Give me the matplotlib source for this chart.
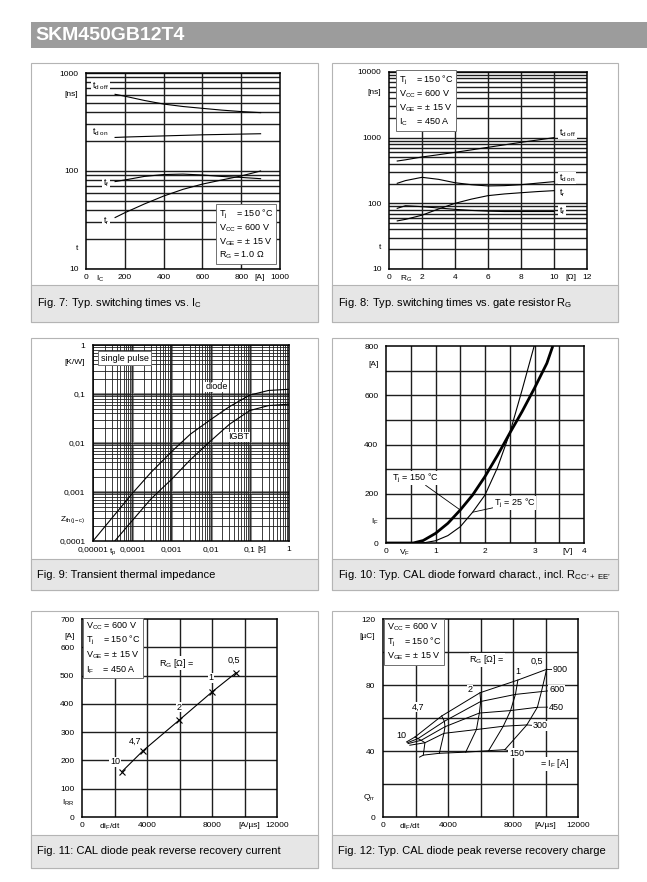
import numpy as np
import matplotlib
matplotlib.use('Agg')
import matplotlib.pyplot as plt
from matplotlib.patches import Rectangle

plt.rcParams['font.family'] = ['Liberation Sans', 'DejaVu Sans']
plt.rcParams['mathtext.fontset'] = 'custom'
plt.rcParams['mathtext.rm'] = 'Liberation Sans'
plt.rcParams['mathtext.it'] = 'Liberation Sans:italic'
plt.rcParams['mathtext.bf'] = 'Liberation Sans:bold'

W, H = 647, 882

# ---- Fig. 7 : switching times vs I_C
ic_a = [150, 200, 300, 400, 500, 600, 700, 800, 900]
t_doff_ic = [606, 580, 525, 482, 455, 436, 418, 404, 394]
t_don_ic = [220, 222, 225, 228, 231, 234, 236, 238, 240]
t_f_ic = [78, 81, 88, 92, 93, 91, 88, 86, 83.5]
t_r_ic = [33.5, 37.5, 46, 55.5, 65, 73.5, 81, 89, 100]

# ---- Fig. 8 : switching times vs R_G
rg_ohm = [0.5, 1, 2, 3, 4, 5, 6, 7, 8, 9, 10]
t_doff_rg = [441, 460, 508, 550, 598, 652, 713, 778, 849, 921, 1000]
t_don_rg = [202, 222, 249, 232, 206, 192, 184, 186, 192, 203, 214]
t_r_rg = [54, 57, 66, 82, 100, 116, 131, 139, 145, 151, 156]
t_f_rg = [84, 92, 89, 85, 81, 78, 76, 75, 75, 75, 75]

# ---- Fig. 9 : transient thermal impedance
tp_diode = [1e-5, 3e-5, 1e-4, 3e-4, 1e-3, 3e-3, 1e-2, 3e-2, 1e-1, 3e-1, 1]
zth_diode = [1.0e-4, 2.9e-4, 9.3e-4, 2.5e-3, 6.6e-3, 0.015, 0.030, 0.055, 0.095, 0.118, 0.125]
tp_igbt = [3.6e-5, 1e-4, 3e-4, 1e-3, 3e-3, 1e-2, 3e-2, 1e-1, 3e-1, 1]
zth_igbt = [1.0e-4, 2.6e-4, 7.2e-4, 1.8e-3, 4.5e-3, 0.011, 0.024, 0.046, 0.058, 0.062]

# ---- Fig. 10 : diode forward characteristic
vf_150 = [0, 0.55, 0.75, 1.0, 1.25, 1.5, 1.75, 2.0, 2.25, 2.5, 2.75, 3.0, 3.25, 3.37]
if_150 = [0, 0, 10, 39, 80, 134, 195, 270, 355, 446, 534, 629, 730, 800]
vf_25 = [0.65, 0.8, 1.0, 1.25, 1.5, 1.75, 2.0, 2.25, 2.5, 2.75, 3.0]
if_25 = [0, 2, 9, 30, 66, 125, 195, 305, 446, 622, 805]

# ---- Fig. 11 : peak reverse recovery current
rg_lbl = ['10', '4,7', '2', '1', '0,5']
dif_11 = [2450, 3750, 5990, 8020, 9480]
irr_11 = [160, 234, 343, 443, 510]

# ---- Fig. 12 : reverse recovery charge, rows I_F, columns R_G = 10, 4.7, 2, 1, 0.5
if_12 = ['150', '300', '450', '600', '900']
dif_12 = [[2480, 3465, 5090, 6500, 7500],
          [2580, 3750, 5750, 7400, 8850],
          [2350, 3815, 5930, 7850, 9500],
          [2150, 3775, 6010, 8150, 9750],
          [1970, 3610, 5970, 8300, 10070]]
qrr_12 = [[37.5, 38.6, 39.3, 40.2, 40.8],
          [45.0, 50.7, 53.0, 55.0, 55.8],
          [46.5, 54.7, 63.0, 64.5, 66.5],
          [47.5, 58.0, 70.0, 74.3, 76.0],
          [48.5, 61.2, 75.3, 83.0, 89.5]]
dif_12_start = [2250, 1650, 1550, 1500, 1450]
qrr_12_start = [36.3, 43.5, 44.5, 45.0, 45.5]


def m(s):
    return r'$\mathregular{%s}$' % s


fig = plt.figure(figsize=(W / 100, H / 100), dpi=100)

# header bar
fig.patches.append(Rectangle((31 / W, 1 - 48 / H), (W - 31) / W, 26 / H,
                             transform=fig.transFigure, fc='#9c9c9c', ec='none', zorder=-1))
fig.text(35 / W, 1 - 35.5 / H, 'SKM450GB12T4', color='white', fontsize=14,
         fontweight='bold', va='center', ha='left')


def panel(x0, y0, x1, y1, cy, caption):
    fig.patches.append(Rectangle((x0 / W, 1 - y1 / H), (x1 - x0) / W, (y1 - y0) / H,
                                 transform=fig.transFigure, fc='white', ec='#b4b4b4',
                                 lw=0.8, zorder=-2))
    fig.patches.append(Rectangle((x0 / W, 1 - y1 / H), (x1 - x0) / W, (y1 - cy) / H,
                                 transform=fig.transFigure, fc='#e6e6e6', ec='#b4b4b4',
                                 lw=0.8, zorder=-1))
    fig.text((x0 + 6) / W, 1 - ((cy + y1) / 2) / H, caption, fontsize=8,
             va='center', ha='left')


def make_ax(x0, y0, x1, y1):
    ax = fig.add_axes([x0 / W, 1 - y1 / H, (x1 - x0) / W, (y1 - y0) / H])
    for s in ax.spines.values():
        s.set_linewidth(1.1)
    return ax


def ticks(ax, xt, xl, yt, yl):
    ax.set_xticks(xt, xl)
    ax.set_yticks(yt, yl)
    ax.minorticks_off()
    ax.tick_params(axis='x', length=0, labelsize=6, pad=3.5)
    ax.tick_params(axis='y', length=0, labelsize=6, pad=5.5)


def grid(ax, xs, ys, lw=1.0, color='#1e1e1e'):
    for v in xs:
        ax.axvline(v, color=color, lw=lw, zorder=1)
    for v in ys:
        ax.axhline(v, color=color, lw=lw, zorder=1)


def ftext(px, py, s, ha='left', va='center', box=False, size=6.5, **kw):
    bb = dict(boxstyle='square,pad=0.08', fc='white', ec='none')
    if box:
        bb = dict(boxstyle='square,pad=0.28', fc='white', ec='#707070', lw=0.7)
    fig.text(px / W, 1 - py / H, s, ha=ha, va=va, fontsize=size, bbox=bb, **kw)


def log_lines(lo, hi):
    out = []
    for e in range(lo, hi):
        out += [k * 10.0 ** e for k in range(1, 10)]
    return out + [10.0 ** hi]


panel(31, 63, 318, 322, 285, 'Fig. 7: Typ. switching times vs. ' + m('I_C'))
panel(332, 63, 618, 322, 285, 'Fig. 8: Typ. switching times vs. gate resistor ' + m('R_G'))
panel(31, 338, 318, 590, 559, 'Fig. 9: Transient thermal impedance')
panel(332, 338, 618, 590, 559,
      'Fig. 10: Typ. CAL diode forward charact., incl. ' + m('R_{CC\u2019+\\ EE\u2019}'))
panel(31, 611, 318, 868, 835, 'Fig. 11: CAL diode peak reverse recovery current')
panel(332, 611, 618, 868, 835, 'Fig. 12: Typ. CAL diode peak reverse recovery charge')

legend_tj = [m('T_j') + '    = 150 °C', m('V_{CC}') + ' = 600 V', m('V_{GE}') + ' = ± 15 V']

# ---------------- Fig. 7
ax = make_ax(86, 73, 280, 269)
ax.set_yscale('log')
ax.set_xlim(0, 1000)
ax.set_ylim(10, 1000)
grid(ax, [200, 400, 600, 800], log_lines(1, 3))
for y in [t_doff_ic, t_don_ic, t_f_ic, t_r_ic]:
    ax.plot(ic_a, y, color='k', lw=0.8, zorder=3)
ticks(ax, [0, 72, 200, 400, 600, 800, 897, 1000],
      ['0', m('I_C'), '200', '400', '600', '800', '[A]', '1000'],
      [10, 16.7, 100, 611, 1000], ['10', 't', '100', '[ns]', '1000'])
ftext(92, 86, m('t_{d\\ off}'))
ftext(92, 132, m('t_{d\\ on}'))
ftext(103, 183, m('t_f'))
ftext(103, 221, m('t_r'))
ftext(219, 234.5, '\n'.join(legend_tj + [m('R_G') + ' = 1.0 Ω']),
      box=True, linespacing=1.25)

# ---------------- Fig. 8
ax = make_ax(389, 72, 587, 269)
ax.set_yscale('log')
ax.set_xlim(0, 12)
ax.set_ylim(10, 10000)
grid(ax, [2, 4, 6, 8, 10], log_lines(1, 4))
for y in [t_doff_rg, t_don_rg, t_r_rg, t_f_rg]:
    ax.plot(rg_ohm, y, color='k', lw=0.8, zorder=3)
ticks(ax, [0, 1.03, 2, 4, 6, 8, 10, 11.0, 12],
      ['0', m('R_G'), '2', '4', '6', '8', '10', '[Ω]', '12'],
      [10, 22.4, 100, 1000, 4960, 10000], ['10', 't', '100', '1000', '[ns]', '10000'])
ftext(559, 133, m('t_{d\\ off}'))
ftext(559, 178, m('t_{d\\ on}'))
ftext(559, 193, m('t_r'))
ftext(559, 211, m('t_f'))
ftext(399, 101, '\n'.join(legend_tj + [m('I_C') + '    = 450 A']), box=True, linespacing=1.25)

# ---------------- Fig. 9
ax = make_ax(93, 345, 289, 541)
ax.set_xscale('log')
ax.set_yscale('log')
ax.set_xlim(1e-5, 1)
ax.set_ylim(1e-4, 1)
xl = log_lines(-5, 0)
yl = log_lines(-4, 0)
for v in [1e-4, 1e-3, 1e-2, 1e-1]:
    ax.axvline(v, color='#8c8c8c', lw=2.2, zorder=0.9)
for v in [1e-3, 1e-2, 1e-1]:
    ax.axhline(v, color='#8c8c8c', lw=2.2, zorder=0.9)
grid(ax, xl, yl, lw=0.6)
ax.plot(tp_diode, zth_diode, color='k', lw=0.8, zorder=3)
ax.plot(tp_igbt, zth_igbt, color='k', lw=0.8, zorder=3)
ticks(ax, [1e-5, 3.2e-5, 1e-4, 1e-3, 1e-2, 1e-1, 0.205, 1],
      ['0,00001', m('t_p'), '0,0001', '0,001', '0,01', '0,1', '[s]', '1'],
      [1e-4, 2.95e-4, 1e-3, 1e-2, 1e-1, 0.47, 1],
      ['0,0001', m('Z_{th(j-c)}'), '0,001', '0,01', '0,1', '[K/W]', '1'])
ftext(101, 358, 'single pulse', box=True)
ftext(217, 387, 'diode', ha='center')
ftext(239, 437, 'IGBT', ha='center')

# ---------------- Fig. 10
ax = make_ax(386, 346, 584, 543)
ax.set_xlim(0, 4)
ax.set_ylim(0, 800)
grid(ax, [0.5, 1, 1.5, 2, 2.5, 3, 3.5], [100, 200, 300, 400, 500, 600, 700])
ax.plot(vf_150, if_150, color='k', lw=2.0, zorder=3, solid_capstyle='butt')
ax.plot(vf_25, if_25, color='k', lw=0.8, zorder=3)
ticks(ax, [0, 0.38, 1, 2, 3, 3.66, 4], ['0', m('V_F'), '1', '2', '3', '[V]', '4'],
      [0, 93, 200, 400, 600, 727, 800], ['0', m('I_F'), '200', '400', '600', '[A]', '800'])
ax.annotate(m('T_j') + ' = 150 °C', xy=(vf_150[5], if_150[5]), xycoords='data',
            xytext=(392, H - 478), textcoords='figure pixels', fontsize=6.5,
            va='center', ha='left',
            bbox=dict(boxstyle='square,pad=0.08', fc='white', ec='none'),
            arrowprops=dict(arrowstyle='-', lw=0.6, color='k', shrinkA=0, shrinkB=0))
ax.annotate(m('T_j') + ' = 25 °C', xy=(vf_25[5], if_25[5]), xycoords='data',
            xytext=(494, H - 503), textcoords='figure pixels', fontsize=6.5,
            va='center', ha='left',
            bbox=dict(boxstyle='square,pad=0.08', fc='white', ec='none'),
            arrowprops=dict(arrowstyle='-', lw=0.6, color='k', shrinkA=0, shrinkB=0))

# ---------------- Fig. 11
ax = make_ax(82, 619, 277, 817)
ax.set_xlim(0, 12000)
ax.set_ylim(0, 700)
grid(ax, [2000, 4000, 6000, 8000, 10000], [100, 200, 300, 400, 500, 600])
ax.plot(dif_11, irr_11, color='k', lw=0.8, marker='x', ms=4.5, mew=0.8, zorder=3)
ticks(ax, [0, 1700, 4000, 8000, 10300, 12000],
      ['0', m('di_F/dt'), '4000', '8000', '[A/µs]', '12000'],
      [0, 56, 100, 200, 300, 400, 500, 600, 640, 700],
      ['0', m('I_{RR}'), '100', '200', '300', '400', '500', '600', '[A]', '700'])
for lab, (px, py) in zip(rg_lbl, [(115, 762), (135, 741), (179, 707), (211, 678), (234, 660)]):
    ftext(px, py, lab, ha='center')
ftext(177, 663, m('R_G') + ' [Ω] =', ha='center')
ftext(86, 648, '\n'.join([legend_tj[1], legend_tj[0], legend_tj[2],
                          m('I_F') + '    = 450 A']), box=True, linespacing=1.25)

# ---------------- Fig. 12
ax = make_ax(383, 619, 578, 817)
ax.set_xlim(0, 12000)
ax.set_ylim(0, 120)
grid(ax, [2000, 4000, 6000, 8000, 10000], [20, 40, 60, 80, 100])
for i in range(len(if_12)):
    ax.plot([dif_12_start[i]] + dif_12[i], [qrr_12_start[i]] + qrr_12[i],
            color='k', lw=0.7, zorder=3)
for j in range(len(rg_lbl)):
    ax.plot([r[j] for r in dif_12], [r[j] for r in qrr_12], color='k', lw=0.7, zorder=3)
ticks(ax, [0, 1650, 4000, 8000, 10000, 12000],
      ['0', m('di_F/dt'), '4000', '8000', '[A/µs]', '12000'],
      [0, 13.3, 40, 80, 109.7, 120], ['0', m('Q_{rr}'), '40', '80', '[µC]', '120'])
for lab, (px, py) in zip(rg_lbl, [(401, 736), (418, 707), (470, 690), (518, 671), (537, 661)]):
    ftext(px, py, lab, ha='center')
ftext(487, 660, m('R_G') + ' [Ω] =', ha='center')
for i, (px, py) in enumerate([(509, 753), (533, 726), (549, 707), (549, 690), (553, 670)]):
    ax.annotate(if_12[i], xy=(dif_12[i][-1], qrr_12[i][-1]), xycoords='data',
                xytext=(px, H - py), textcoords='figure pixels', fontsize=6.5,
                va='center', ha='left',
                bbox=dict(boxstyle='square,pad=0.08', fc='white', ec='none'),
                arrowprops=dict(arrowstyle='-', lw=0.6, color='k', shrinkA=0, shrinkB=0))
ftext(540, 764, '= ' + m('I_F') + ' [A]')
ftext(387, 642, '\n'.join([legend_tj[1], legend_tj[0], legend_tj[2]]), box=True,
      linespacing=1.25)

fig.savefig('out.png', dpi=100)
